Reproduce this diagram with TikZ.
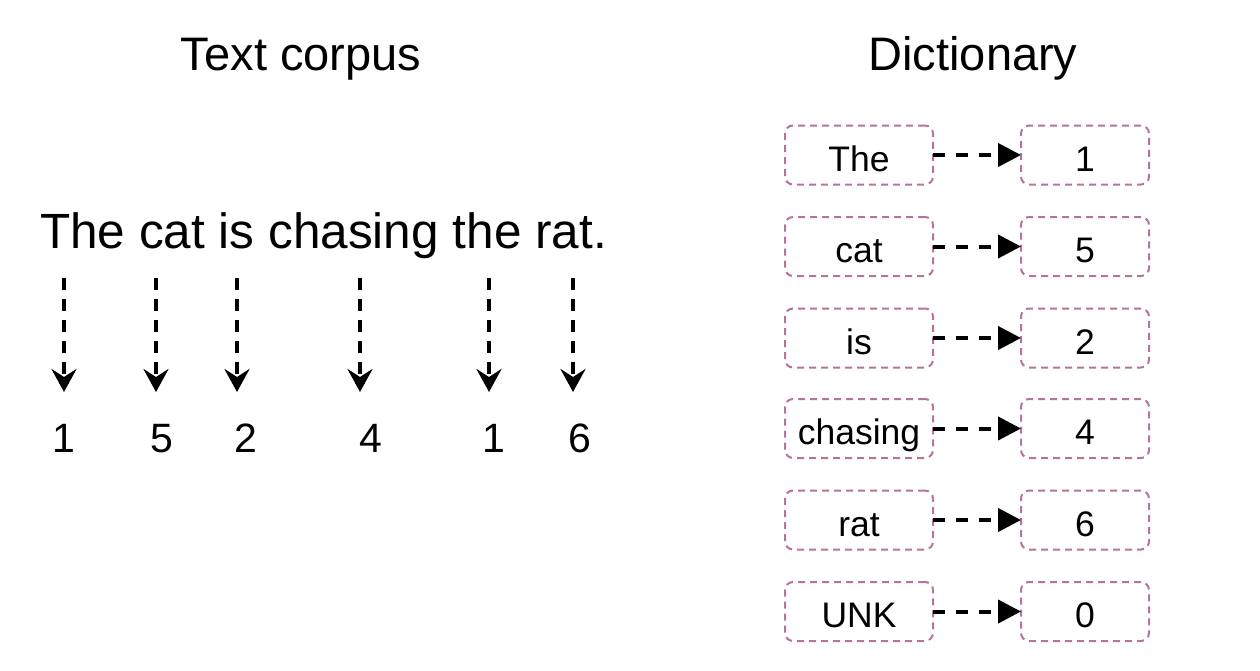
\documentclass[tikz,border=0pt]{standalone}
\usepackage{fontspec}
\setmainfont{Liberation Sans}
\usetikzlibrary{arrows.meta}
\definecolor{boxpurple}{HTML}{B5739D}
\tikzset{
  title/.style={inner sep=0pt, anchor=base, font=\fontsize{47}{50}\selectfont},
  sentence/.style={inner sep=0pt, anchor=base, font=\fontsize{49.5}{54}\selectfont},
  numlbl/.style={inner sep=0pt, anchor=base, font=\fontsize{41}{45}\selectfont},
  dictbox/.style={draw=boxpurple, line width=2pt, dash pattern=on 7pt off 5pt,
    rounded corners=8pt, minimum height=59pt, inner sep=0pt, outer sep=0pt,
    text height=32pt, text depth=0pt,
    font=\fontsize{35.5}{40}\selectfont},
  keybox/.style={dictbox, minimum width=148pt},
  valbox/.style={dictbox, minimum width=128pt},
  varrow/.style={line width=3.5pt, dash pattern=on 12pt off 9pt,
    -{Stealth[length=23pt, width=25pt, inset=8pt]}},
  harrow/.style={line width=4pt, dash pattern=on 12pt off 11pt,
    -{Triangle[length=23pt, width=23pt]}}
}
\begin{document}
\begin{tikzpicture}[x=1pt, y=-1pt]
\useasboundingbox (0,0) rectangle (1260,670);
\node[title] (ttext) at (301,70) {Text corpus};
\node[title] (tdict) at (973,70) {Dictionary};
\node[sentence] (sent) at (323.5,248) {The cat is chasing the rat.};

% numbers
\foreach \i/\x/\v in {1/64/1, 2/162/5, 3/246/2, 4/371/4, 5/494/1, 6/580/6} {
  \node[numlbl] (n\i) at (\x,452) {\v};
}
% arrows
\foreach \i/\x in {1/64, 2/156, 3/237, 4/360, 5/489, 6/573} {
  \coordinate (t\i) at (\x,278);
  \coordinate (b\i) at (\x,392);
  \draw[varrow] (t\i) -- (b\i);
}

% dictionary
\foreach \i/\y/\k/\v in {1/155/The/1, 2/246.5/cat/5, 3/338/is/2, 4/428.5/chasing/4, 5/520/rat/6, 6/611.5/UNK/0} {
  \node[keybox] (k\i) at (859,\y) {\k};
  \node[valbox] (v\i) at (1085,\y) {\v};
  \draw[harrow] (k\i.east) -- (v\i.west);
}
\end{tikzpicture}
\end{document}
